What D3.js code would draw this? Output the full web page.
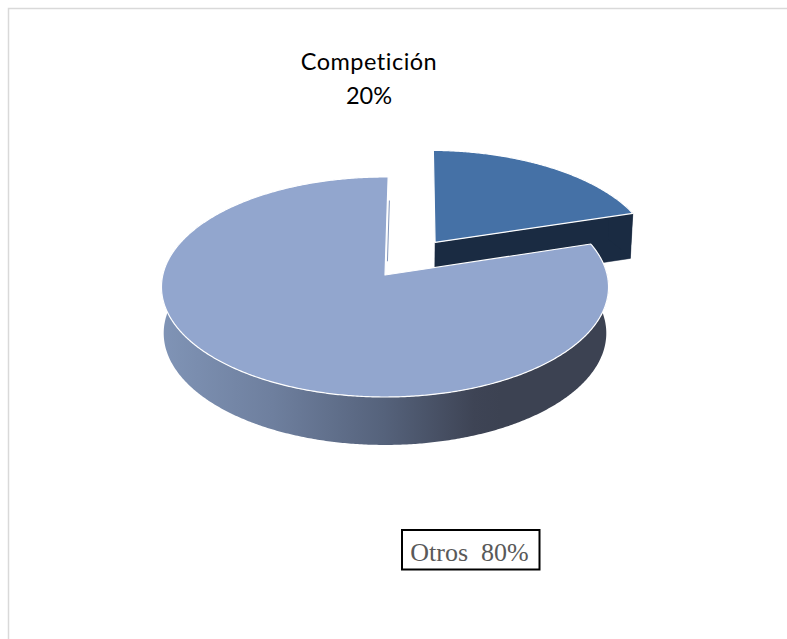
<!DOCTYPE html>
<html>
<head>
<meta charset="utf-8">
<script src="https://cdn.jsdelivr.net/npm/d3@7"></script>
<style>
  html, body { margin: 0; padding: 0; background: #fff; }
  svg { display: block; }
</style>
</head>
<body>
<svg id="chart" width="787" height="639"></svg>
<script>
// Share of the market, shown as a tilted 3D pie with one slice pulled out
const categories = ["Competición", "Otros"];
const seriesValues = [20, 80];
const percentLabels = ["20%", "80%"];
const sliceColors = ["#4571a6", "#92a6ce"];
const wallColors = ["#1a2b42", "url(#wallShade)"];
const explodeAmounts = [0.388, 0];

const svg = d3.select("#chart");
const deg = Math.PI / 180;

// Perspective applied to the pie's plane: u is right, v is away from the viewer
const centerX = 385, centerY = 275;
const spanX = 222.2, spanY = 108.7, tilt = 0.109;
const wallScaleX = 0.99, wallScaleY = 1.016, wallDrop = 46;

function project(u, v, lower) {
  const d = 1 + tilt * v;
  const x = spanX * u / d;
  const y = -spanY * v / d;
  return lower
    ? [centerX + x * wallScaleX, centerY + y * wallScaleY + wallDrop]
    : [centerX + x, centerY + y];
}

const pie = d3.pie().sort(null).startAngle(0.9 * deg).endAngle(360.9 * deg);
const arcs = pie(seriesValues);
const line = d3.line();

// Plane coordinates of a point on a slice's rim, including its pull-out offset
function rimPoint(a, slice, lower) {
  return project(slice.ox + Math.sin(a), slice.oy + Math.cos(a), lower);
}
function rimAngles(slice) {
  const steps = Math.ceil((slice.endAngle - slice.startAngle) / (0.5 * deg));
  return d3.range(steps + 1).map(i =>
    slice.startAngle + (slice.endAngle - slice.startAngle) * i / steps);
}

const slices = arcs.map((d, i) => {
  const mid = (d.startAngle + d.endAngle) / 2;
  return {
    startAngle: d.startAngle,
    endAngle: d.endAngle,
    ox: explodeAmounts[i] * Math.sin(mid),
    oy: explodeAmounts[i] * Math.cos(mid),
    top: sliceColors[i],
    wall: wallColors[i]
  };
});

const defs = svg.append("defs");
const shade = defs.append("linearGradient")
  .attr("id", "wallShade")
  .attr("gradientUnits", "userSpaceOnUse")
  .attr("x1", 161).attr("x2", 608).attr("y1", 0).attr("y2", 0);
shade.append("stop").attr("offset", 0).attr("stop-color", "#8094b6");
shade.append("stop").attr("offset", 0.25).attr("stop-color", "#6e7f9e");
shade.append("stop").attr("offset", 0.5).attr("stop-color", "#55627b");
shade.append("stop").attr("offset", 0.7).attr("stop-color", "#3e4455");
shade.append("stop").attr("offset", 0.76).attr("stop-color", "#3c4252");
shade.append("stop").attr("offset", 1).attr("stop-color", "#3c4252");

// Chart frame: only the top and left rules are present
svg.append("path")
  .attr("d", "M787,8.5H8.5V639")
  .attr("fill", "none")
  .attr("stroke", "#d9d9d9")
  .attr("stroke-width", 1.5);

slices.forEach((s, i) => {
  const g = svg.append("g").attr("class", "slice-" + categories[i]);
  const hub = project(s.ox, s.oy, false);
  const hubLow = project(s.ox, s.oy, true);
  const angles = rimAngles(s);
  const upper = angles.map(a => rimPoint(a, s, false));

  // Only the viewer-facing stretch of the rim gets a wall
  const facing = angles.filter(a => Math.cos(a) < 0.5);
  const wallUpper = facing.map(a => rimPoint(a, s, false));
  const wallLower = facing.map(a => rimPoint(a, s, true));

  // Cut face along the slice's trailing edge
  if (i === 0) {
    g.append("path")
      .attr("d", line([hub, upper[upper.length - 1],
        wallLower[wallLower.length - 1], hubLow]) + "Z")
      .attr("fill", s.wall).attr("stroke", s.wall).attr("stroke-width", 0.5);
  }

  // Outer rim wall
  g.append("path")
    .attr("d", line(wallUpper.concat(wallLower.slice().reverse())) + "Z")
    .attr("fill", s.wall);

  // Sliver of the inner face showing beside the leading edge
  if (i === 1) {
    const a = upper[upper.length - 1];
    g.append("path")
      .attr("d", line([
        [hub[0] + (a[0] - hub[0]) * 0.14 + 2, hub[1] + (a[1] - hub[1]) * 0.14],
        [hub[0] + (a[0] - hub[0]) * 0.76 + 2, hub[1] + (a[1] - hub[1]) * 0.76]
      ]))
      .attr("fill", "none")
      .attr("stroke", "#8496ba")
      .attr("stroke-width", 1);
  }

  // Top face with a thin white edge
  g.append("path")
    .attr("d", line([hub].concat(upper)) + "Z")
    .attr("fill", s.top)
    .attr("stroke", "#fff")
    .attr("stroke-width", 1.2)
    .attr("stroke-linejoin", "round");
});

// Label of the pulled-out slice
const label = svg.append("text")
  .attr("text-anchor", "middle")
  .attr("font-family", "Lato, 'Open Sans', sans-serif")
  .attr("font-size", 23.5)
  .attr("fill", "#000")
  .style("font-variant-ligatures", "none");
label.append("tspan").attr("x", 369).attr("y", 70)
  .attr("letter-spacing", 0.5).text(categories[0]);
label.append("tspan").attr("x", 369).attr("y", 104).text(percentLabels[0]);

// Boxed label of the main slice
svg.append("rect")
  .attr("x", 402).attr("y", 530)
  .attr("width", 137.5).attr("height", 39.5)
  .attr("fill", "#fff")
  .attr("stroke", "#000")
  .attr("stroke-width", 2);
svg.append("text")
  .attr("x", 469.5).attr("y", 561)
  .attr("text-anchor", "middle")
  .attr("font-family", "'Liberation Serif', serif")
  .attr("font-size", 26)
  .attr("fill", "#595959")
  .style("white-space", "pre")
  .text(categories[1] + "  " + percentLabels[1]);
</script>
</body>
</html>
